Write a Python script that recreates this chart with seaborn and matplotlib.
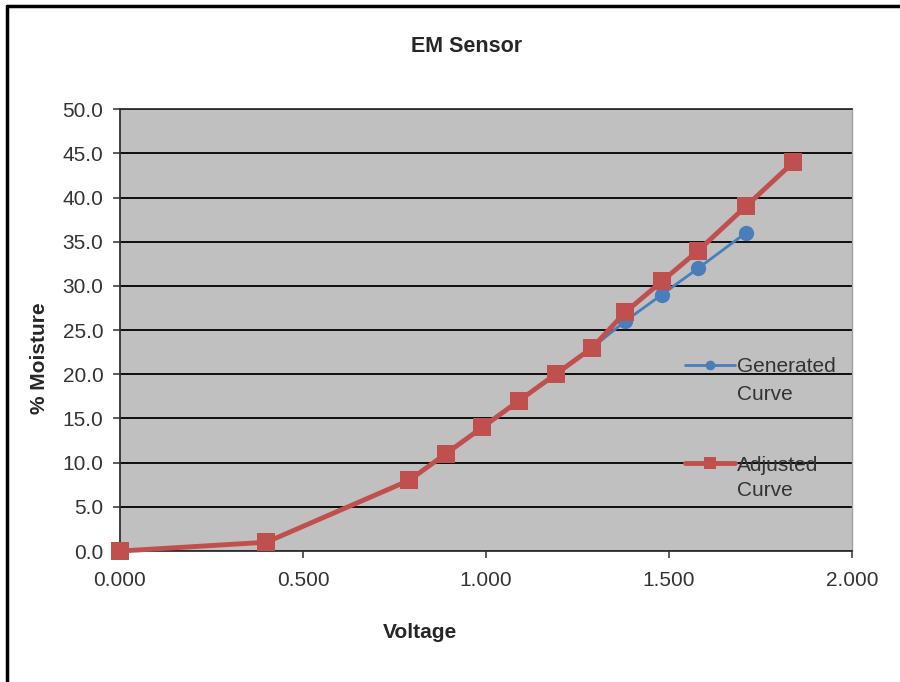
import pandas as pd
import numpy as np
import seaborn as sns
import matplotlib.pyplot as plt
from matplotlib.lines import Line2D
from matplotlib.ticker import FormatStrFormatter, MultipleLocator

sns.set_theme(style="white")
plt.rcParams['font.family'] = ['Liberation Sans', 'DejaVu Sans']

voltage_gen = [0.0, 0.40, 0.79, 0.89, 0.99, 1.09, 1.19, 1.29, 1.38, 1.48, 1.58, 1.71]
moisture_gen = [0.0, 1.0, 8.0, 11.0, 14.0, 17.0, 20.0, 23.0, 26.0, 29.0, 32.0, 36.0]
voltage_adj = [0.0, 0.40, 0.79, 0.89, 0.99, 1.09, 1.19, 1.29, 1.38, 1.48, 1.58, 1.71, 1.84]
moisture_adj = [0.0, 1.0, 8.0, 11.0, 14.0, 17.0, 20.0, 23.0, 27.0, 30.5, 34.0, 39.0, 44.0]

gen = pd.DataFrame({'Voltage': voltage_gen, 'Moisture': moisture_gen})
adj = pd.DataFrame({'Voltage': voltage_adj, 'Moisture': moisture_adj})

blue = '#4a7ebb'
red = '#c0504d'
txt = '#333333'

fig = plt.figure(figsize=(9, 6.82), dpi=100)
ax = fig.add_axes([0.1333, 0.192, 0.8134, 0.648])
ax.set_facecolor('#c0c0c0')

sns.lineplot(data=gen, x='Voltage', y='Moisture', ax=ax, color=blue, linewidth=2,
             marker='o', markersize=11, markeredgewidth=0, sort=False, zorder=3, clip_on=False)
sns.lineplot(data=adj, x='Voltage', y='Moisture', ax=ax, color=red, linewidth=3.5,
             marker='s', markersize=13, markeredgewidth=0, sort=False, zorder=4, clip_on=False)

ax.set_xlim(0, 2.0)
ax.set_ylim(0, 50)
ax.xaxis.set_major_locator(MultipleLocator(0.5))
ax.yaxis.set_major_locator(MultipleLocator(5))
ax.xaxis.set_major_formatter(FormatStrFormatter('%.3f'))
ax.yaxis.set_major_formatter(FormatStrFormatter('%.1f'))
ax.grid(axis='y', color='black', linewidth=1.3)
ax.set_axisbelow(True)

ax.spines['right'].set_color('#a0a0a0')
ax.spines['right'].set_linewidth(1)
for side in ['left', 'bottom', 'top']:
    ax.spines[side].set_color('#303030')
    ax.spines[side].set_linewidth(1.3)

ax.tick_params(axis='both', direction='out', length=5, width=1.2, color='#404040',
               labelsize=15, labelcolor=txt, left=True, bottom=True)
ax.tick_params(axis='y', pad=7)
ax.tick_params(axis='x', pad=9)

ax.set_xlabel('Voltage', fontsize=15, fontweight='bold', labelpad=24, x=0.41)
ax.set_ylabel('% Moisture', fontsize=15, fontweight='bold', labelpad=10, y=0.437)
ax.set_title('EM Sensor', fontsize=15.5, fontweight='bold', pad=41, x=0.474)

handles = [
    Line2D([], [], color=blue, linewidth=2, marker='o', markersize=7, markeredgewidth=0),
    Line2D([], [], color=red, linewidth=3.5, marker='s', markersize=9, markeredgewidth=0),
]
leg = ax.legend(handles, ['Generated', 'Adjusted'], loc='upper left',
                bbox_to_anchor=(0.772, 0.438), frameon=False, fontsize=15,
                handlelength=2.4, handletextpad=0.1, labelspacing=3.8,
                borderaxespad=0, borderpad=0)
for t in leg.get_texts():
    t.set_color(txt)
for y in [0.355, 0.138]:
    ax.text(0.843, y, 'Curve', transform=ax.transAxes, fontsize=15, color=txt,
            va='center', ha='left')

fig.add_artist(Line2D([0.0083, 0.0083], [0, 0.991], color='black', linewidth=2.5,
                      transform=fig.transFigure))
fig.add_artist(Line2D([0.0083, 1.0], [0.991, 0.991], color='black', linewidth=2.5,
                      transform=fig.transFigure))

fig.savefig('out.png', dpi=100)
